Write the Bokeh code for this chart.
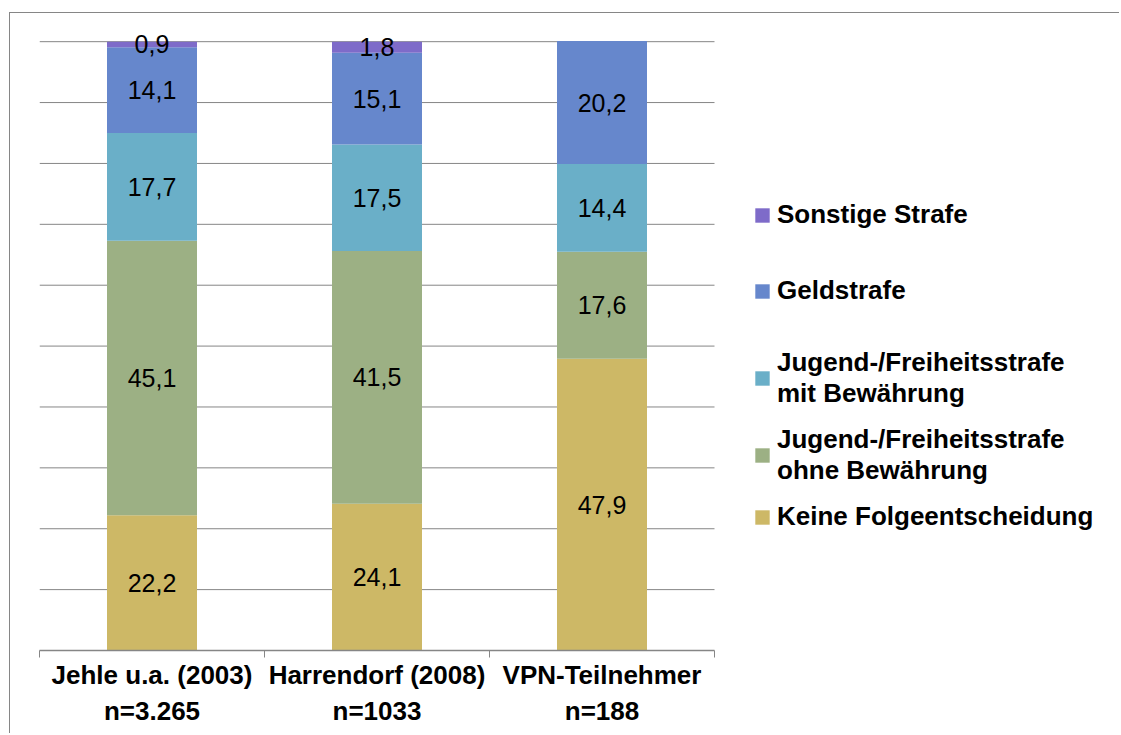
from bokeh.plotting import figure
from bokeh.models import Range1d, FixedTicker, Legend, LegendItem, ColumnDataSource, LabelSet
from bokeh.core.properties import value
from bokeh.embed import file_html
from bokeh.resources import INLINE

categories = ["Jehle u.a. (2003)\nn=3.265", "Harrendorf (2008)\nn=1033", "VPN-Teilnehmer\nn=188"]
series_names = ["Keine Folgeentscheidung", "Jugend-/Freiheitsstrafe\nohne Bewährung",
                "Jugend-/Freiheitsstrafe\nmit Bewährung", "Geldstrafe", "Sonstige Strafe"]
keine = [22.2, 24.1, 47.9]
ohne = [45.1, 41.5, 17.6]
mit = [17.7, 17.5, 14.4]
geld = [14.1, 15.1, 20.2]
sonstige = [0.9, 1.8, 0.0]
colors = ["#CDB866", "#9CB084", "#6AAFC8", "#6687CC", "#7E6BC9"]
grid_ticks = [10, 20, 30, 40, 50, 60, 70, 80, 90, 100]

series = [keine, ohne, mit, geld, sonstige]
keys = ["s0", "s1", "s2", "s3", "s4"]
n = len(categories)
xs = [i + 0.5 for i in range(n)]

data = {"x": xs}
for k, s in zip(keys, series):
    data[k] = s
src = ColumnDataSource(data)

FONT = "Liberation Sans"
GRID = "#868686"

W, H = 1110, 721
LEFT, TOP, BOTTOM = 29, 16, 84
PX_PER_CAT = 225
x_end = (W - LEFT) / PX_PER_CAT

p = figure(width=W, height=H, output_backend="svg", toolbar_location=None,
           x_range=Range1d(0, x_end), y_range=Range1d(0, 102),
           min_border_left=LEFT, min_border_top=TOP, min_border_bottom=BOTTOM, min_border_right=0)
p.styles = {"border-left": "1px solid #868686", "border-top": "1px solid #868686",
            "margin-left": "9px", "margin-top": "12px"}
p.outline_line_color = None
p.background_fill_color = "white"
p.border_fill_color = "white"

# horizontal gridlines restricted to the category area
p.segment(x0=[0] * len(grid_ticks), x1=[n] * len(grid_ticks), y0=grid_ticks, y1=grid_ticks,
          line_color=GRID, line_width=1)

renderers = p.vbar_stack(keys, x="x", width=0.4, source=src, color=colors, line_color=None)

# labels
lx, ly, lt = [], [], []
for i in range(n):
    base = 0.0
    for s in series:
        v = s[i]
        if v > 0:
            lx.append(xs[i])
            ly.append(base + v / 2)
            lt.append(f"{v:.1f}".replace(".", ","))
        base += v
lsrc = ColumnDataSource(dict(x=lx, y=ly, t=lt))
p.add_layout(LabelSet(x="x", y="y", text="t", source=lsrc, text_align="center",
                      text_baseline="middle", text_font=value(FONT), text_font_size=value("25px"),
                      text_color="black"))

p.yaxis.visible = False
p.xgrid.visible = False
p.ygrid.visible = False

ax = p.xaxis[0]
ax.bounds = (0, n)
ax.ticker = FixedTicker(ticks=xs, minor_ticks=list(range(n + 1)))
ax.major_label_overrides = {x: c for x, c in zip(xs, categories)}
ax.major_tick_line_color = None
ax.minor_tick_line_color = GRID
ax.minor_tick_out = 7
ax.minor_tick_in = 0
ax.axis_line_color = GRID
ax.axis_line_width = 1.5
ax.major_label_text_font = FONT
ax.major_label_text_font_style = "bold"
ax.major_label_text_font_size = "26px"
ax.major_label_text_color = "black"
ax.major_label_standoff = 2

def make_legend(idx, loc, spacing):
    items = [LegendItem(label=series_names[j], renderers=[renderers[j]]) for j in idx]
    return Legend(items=items, location=loc, orientation="vertical",
                  glyph_width=18, glyph_height=18, label_standoff=6,
                  label_text_font=FONT, label_text_font_style="bold", label_text_font_size="26px",
                  label_text_color="black", spacing=spacing, padding=0, margin=0,
                  border_line_color=None, background_fill_alpha=0)

p.add_layout(make_legend([4, 3], (714, 344), 45), "center")
p.add_layout(make_legend([2, 1, 0], (714, 118), 15), "center")

open("out.html", "w").write(file_html(p, INLINE))
